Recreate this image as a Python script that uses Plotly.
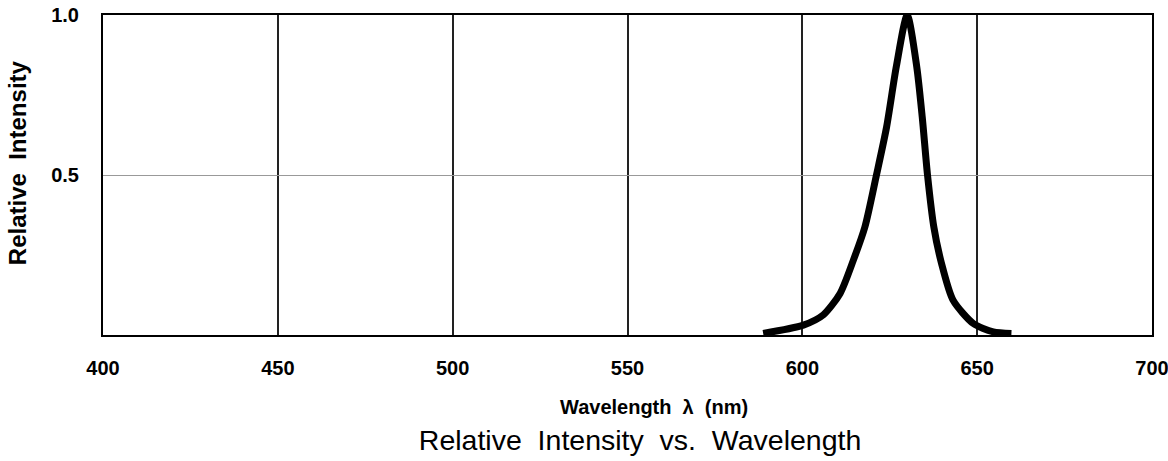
import plotly.graph_objects as go

wavelength = [588.8, 600.3, 606.0, 610.8, 614.6, 617.9, 621.2, 624.1, 626.9, 630.0,
              632.7, 634.3, 635.8, 637.6, 639.8, 643.1, 648.9, 654.6, 659.8]
intensity = [0.005, 0.031, 0.063, 0.13, 0.234, 0.338, 0.50, 0.65, 0.84, 1.0,
             0.84, 0.68, 0.50, 0.338, 0.224, 0.109, 0.036, 0.010, 0.005]
x_ticks = [400, 450, 500, 550, 600, 650, 700]
y_ticks = [0.5, 1.0]
y_tick_labels = ["0.5", "1.0"]

fig = go.Figure()
fig.add_trace(go.Scatter(x=wavelength, y=intensity, mode="lines",
                         line=dict(color="black", width=7, shape="spline", smoothing=0.7),
                         showlegend=False, hoverinfo="skip"))

fig.update_layout(
    width=1168, height=461,
    margin=dict(l=103, r=16, t=15, b=126),
    paper_bgcolor="white", plot_bgcolor="white",
    font=dict(family="Liberation Sans", color="black"),
    title=dict(text="Relative  Intensity  vs.  Wavelength", x=0.548, xanchor="center",
               y=0.045, yref="container", yanchor="middle", automargin=False,
               font=dict(family="Liberation Sans", size=28.5, color="black")),
    annotations=[
        dict(text="<b>Relative  Intensity</b>", xref="paper", yref="paper",
             x=-0.082, y=0.54, xanchor="center", yanchor="middle",
             textangle=-90, showarrow=False,
             font=dict(family="Liberation Sans", size=24, color="black")),
        dict(text="<b>Wavelength  λ  (nm)</b>", xref="paper", yref="paper",
             x=0.525, y=-0.225, xanchor="center", yanchor="middle", showarrow=False,
             font=dict(family="Liberation Sans", size=20, color="black")),
    ],
)
fig.update_xaxes(range=[400, 700], tickvals=x_ticks, ticktext=[f"<b>{v}</b>" for v in x_ticks],
                 showgrid=True, gridcolor="#222", gridwidth=1.5,
                 showline=True, linecolor="black", linewidth=2, mirror=True,
                 ticks="", ticklabelstandoff=14, zeroline=False, automargin=False,
                 ticklabeloverflow="allow",
                 tickfont=dict(size=20, family="Liberation Sans"))
fig.update_yaxes(range=[0, 1], tickvals=y_ticks, ticktext=[f"<b>{t}</b>" for t in y_tick_labels],
                 showgrid=True, gridcolor="#999", gridwidth=1,
                 showline=True, linecolor="black", linewidth=2, mirror=True,
                 ticks="", ticklabelstandoff=18, zeroline=False, automargin=False,
                 ticklabeloverflow="allow",
                 tickfont=dict(size=20, family="Liberation Sans"))

fig.write_html("out.html", config={"displayModeBar": False},
               post_script="document.body.style.margin='0';document.body.style.overflow='hidden';")
